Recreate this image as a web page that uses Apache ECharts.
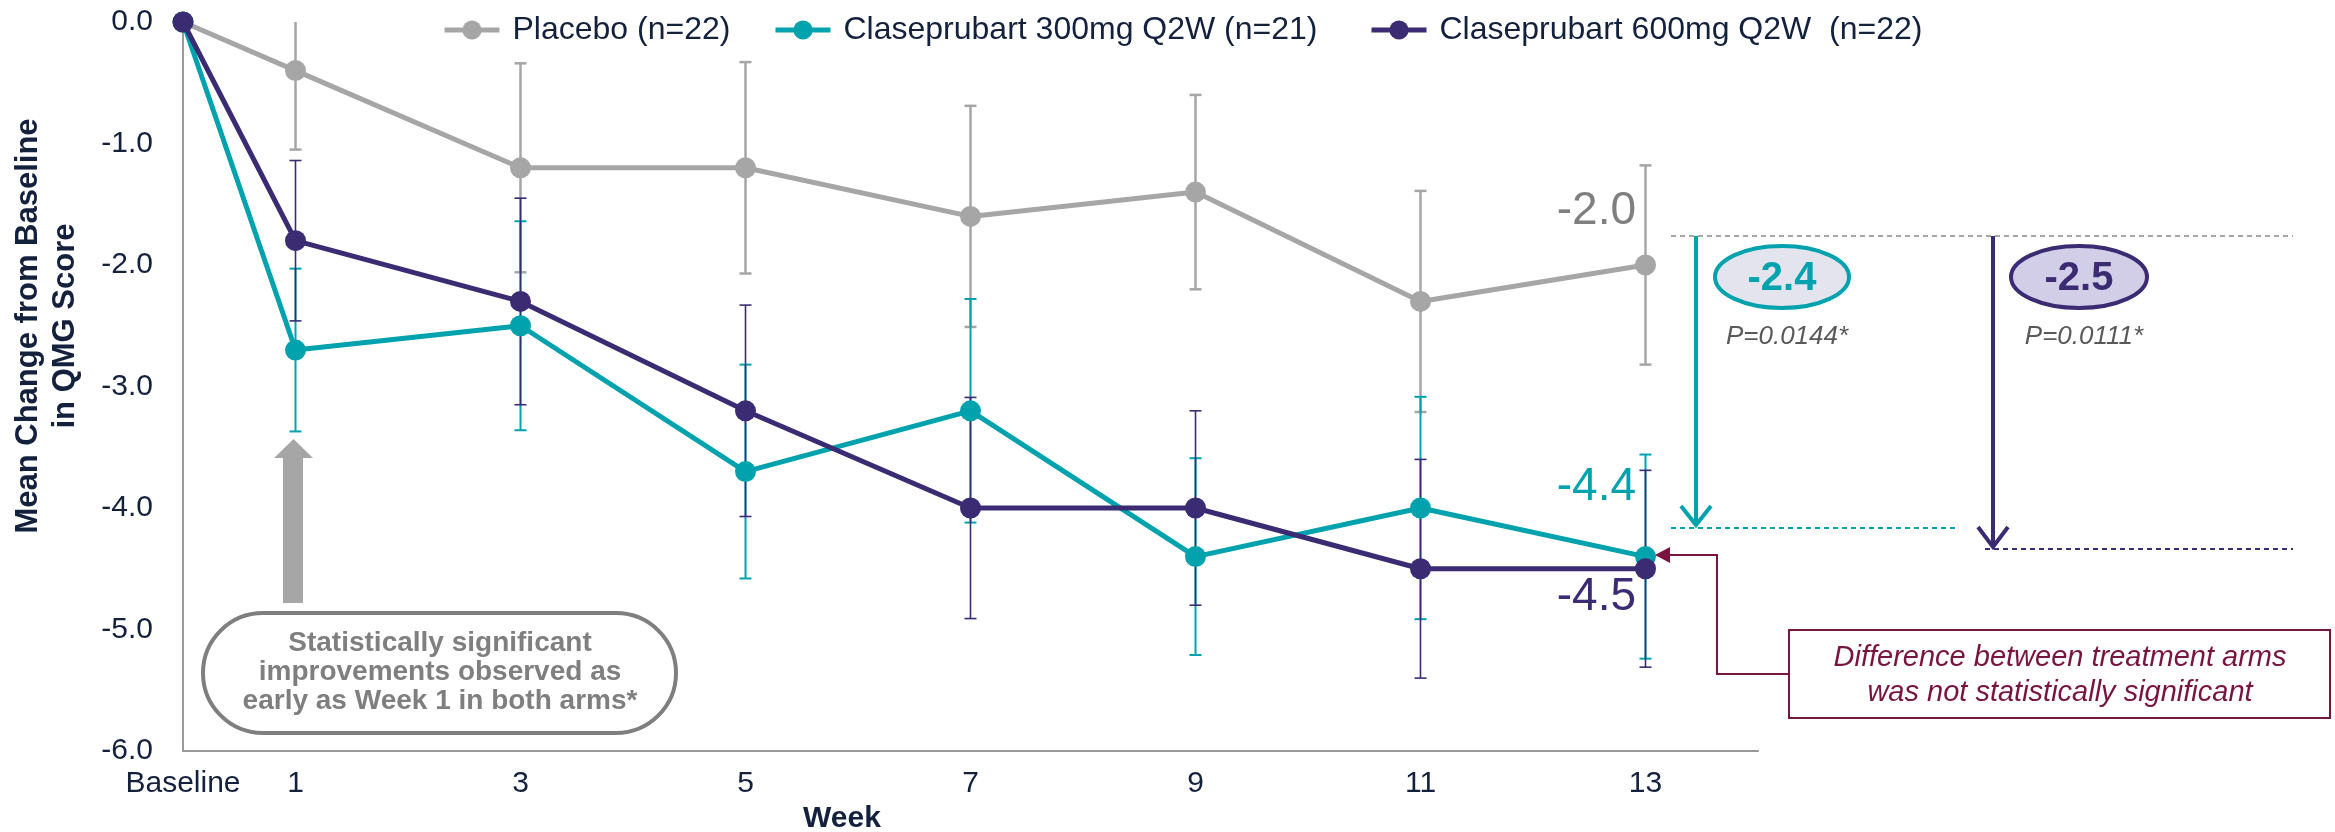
<!DOCTYPE html>
<html>
<head>
<meta charset="utf-8">
<script src="https://cdn.jsdelivr.net/npm/echarts@6/dist/echarts.min.js"></script>
<style>
  html, body { margin: 0; padding: 0; background: #ffffff; }
  #chart { width: 2335px; height: 832px; }
</style>
</head>
<body>
<div id="chart"></div>
<script>
// ---------------- data ----------------
const weeks = [0, 1, 3, 5, 7, 9, 11, 13];
const xTickLabels = { 0: 'Baseline', 1: '1', 3: '3', 5: '5', 7: '7', 9: '9', 11: '11', 13: '13' };
const seriesNames = ['Placebo (n=22)', 'Claseprubart 300mg Q2W (n=21)', 'Claseprubart 600mg Q2W  (n=22)'];
const placeboMean = [0, -0.4, -1.2, -1.2, -1.6, -1.4, -2.3, -2.0];
const placeboSE   = [0, 0.65, 0.86, 0.87, 0.91, 0.80, 0.91, 0.82];
const c300Mean    = [0, -2.7, -2.5, -3.7, -3.2, -4.4, -4.0, -4.4];
const c300SE      = [0, 0.67, 0.86, 0.88, 0.92, 0.81, 0.915, 0.84];
const c600Mean    = [0, -1.8, -2.3, -3.2, -4.0, -4.0, -4.5, -4.5];
const c600SE      = [0, 0.66, 0.85, 0.87, 0.91, 0.80, 0.90, 0.81];

// ---------------- styles ----------------
const GRAY = '#A6A6A6', TEAL = '#00A2AE', PURPLE = '#3A2B73', MAROON = '#781440';
const TXT = '#13213C', DGRAY = '#7F7F7F';
const FONT = '"Liberation Sans", Arial, sans-serif';

function pts(mean) { return weeks.map((w, i) => [w, mean[i]]); }
function errData(mean, se) { return weeks.map((w, i) => [w, mean[i] - se[i], mean[i] + se[i]]).filter((d, i) => se[i] > 0); }

function errSeries(mean, se, color, lw) {
  return {
    type: 'custom', silent: true, z: 1, data: errData(mean, se),
    renderItem: function (params, api) {
      const cs = params.coordSys;
      const x = api.coord([api.value(0), 0])[0];
      let yLo = api.coord([0, api.value(1)])[1];
      let yHi = api.coord([0, api.value(2)])[1];
      const top = cs.y, bot = cs.y + cs.height;
      const children = [];
      const hiClipped = yHi < top, loClipped = yLo > bot;
      yHi = Math.max(yHi, top); yLo = Math.min(yLo, bot);
      const st = { stroke: color, lineWidth: lw };
      children.push({ type: 'line', shape: { x1: x, y1: yHi, x2: x, y2: yLo }, style: st });
      const hw = 6;
      if (!hiClipped) children.push({ type: 'line', shape: { x1: x - hw, y1: yHi, x2: x + hw, y2: yHi }, style: st });
      if (!loClipped) children.push({ type: 'line', shape: { x1: x - hw, y1: yLo, x2: x + hw, y2: yLo }, style: st });
      return { type: 'group', children: children };
    }
  };
}

function lineSeries(name, mean, color, z) {
  return {
    name: name, type: 'line', data: pts(mean), z: z,
    symbol: 'circle', symbolSize: 21,
    lineStyle: { color: color, width: 5 },
    itemStyle: { color: color },
    emphasis: { disabled: true }
  };
}

function legendAt(name, left) {
  return {
    data: [name], left: left, top: 14, padding: 0,
    itemWidth: 55, itemHeight: 24,
    lineStyle: { width: 5 },
    textStyle: { fontFamily: FONT, fontSize: 32, color: TXT, padding: [0, 0, 0, 8] },
    selectedMode: false
  };
}

const chart = echarts.init(document.getElementById('chart'), null, { renderer: 'canvas' });

const graphics = [
  // y-axis title
  { type: 'text', x: 47, y: 326, rotation: Math.PI / 2,
    style: { text: 'Mean Change from Baseline\nin QMG Score', font: 'bold 31px ' + FONT, fill: TXT,
             align: 'center', verticalAlign: 'middle', lineHeight: 37 } },
  // x-axis title
  { type: 'text', x: 842, y: 819,
    style: { text: 'Week', font: 'bold 30px ' + FONT, fill: TXT, align: 'center', verticalAlign: 'middle' } },
  // gray block arrow
  { type: 'polygon', shape: { points: [[283, 603], [283, 458], [274, 458], [293.5, 439], [313, 458], [303, 458], [303, 603]] },
    style: { fill: GRAY } },
  // rounded callout
  { type: 'rect', shape: { x: 203, y: 613, width: 473, height: 120, r: 60 },
    style: { fill: '#ffffff', stroke: DGRAY, lineWidth: 4 } },
  { type: 'text', x: 440, y: 672,
    style: { text: 'Statistically significant\nimprovements observed as\nearly as Week 1 in both arms*',
             font: 'bold 28px ' + FONT, fill: DGRAY, align: 'center', verticalAlign: 'middle', lineHeight: 29 } },
  // end-value labels
  { type: 'text', x: 1636, y: 211, style: { text: '-2.0', font: '46px ' + FONT, fill: DGRAY, align: 'right', verticalAlign: 'middle' } },
  { type: 'text', x: 1636, y: 487, style: { text: '-4.4', font: '46px ' + FONT, fill: TEAL, align: 'right', verticalAlign: 'middle' } },
  { type: 'text', x: 1636, y: 597, style: { text: '-4.5', font: '46px ' + FONT, fill: PURPLE, align: 'right', verticalAlign: 'middle' } },
  // dashed reference lines
  { type: 'line', shape: { x1: 1671, y1: 236, x2: 2293, y2: 236 }, style: { stroke: GRAY, lineWidth: 2, lineDash: [5, 4] } },
  { type: 'line', shape: { x1: 1671, y1: 528, x2: 1958, y2: 528 }, style: { stroke: TEAL, lineWidth: 2, lineDash: [5, 4] } },
  { type: 'line', shape: { x1: 1985, y1: 549, x2: 2293, y2: 549 }, style: { stroke: PURPLE, lineWidth: 2, lineDash: [5, 4] } },
  // teal arrow
  { type: 'line', shape: { x1: 1696, y1: 236, x2: 1696, y2: 524 }, style: { stroke: TEAL, lineWidth: 4 } },
  { type: 'polyline', shape: { points: [[1681, 506], [1696, 525], [1711, 506]] }, style: { stroke: TEAL, lineWidth: 4, fill: null } },
  // purple arrow
  { type: 'line', shape: { x1: 1993, y1: 236, x2: 1993, y2: 545 }, style: { stroke: PURPLE, lineWidth: 4 } },
  { type: 'polyline', shape: { points: [[1978, 527], [1993, 547], [2008, 527]] }, style: { stroke: PURPLE, lineWidth: 4, fill: null } },
  // ellipses
  { type: 'ellipse', shape: { cx: 1782, cy: 277, rx: 67, ry: 31 }, style: { fill: '#E4E4EE', stroke: TEAL, lineWidth: 4 } },
  { type: 'text', x: 1782, y: 279, style: { text: '-2.4', font: 'bold 40px ' + FONT, fill: TEAL, align: 'center', verticalAlign: 'middle' } },
  { type: 'ellipse', shape: { cx: 2079, cy: 277, rx: 68, ry: 31 }, style: { fill: '#D2CEE8', stroke: PURPLE, lineWidth: 4 } },
  { type: 'text', x: 2079, y: 279, style: { text: '-2.5', font: 'bold 40px ' + FONT, fill: PURPLE, align: 'center', verticalAlign: 'middle' } },
  { type: 'text', x: 1787, y: 337, style: { text: 'P=0.0144*', font: 'italic 26px ' + FONT, fill: '#595959', align: 'center', verticalAlign: 'middle' } },
  { type: 'text', x: 2084, y: 337, style: { text: 'P=0.0111*', font: 'italic 26px ' + FONT, fill: '#595959', align: 'center', verticalAlign: 'middle' } },
  // maroon callout
  { type: 'polyline', shape: { points: [[1668, 555], [1717, 555], [1717, 674], [1789, 674]] }, style: { stroke: MAROON, lineWidth: 2, fill: null } },
  { type: 'polygon', shape: { points: [[1655, 555], [1670, 547], [1670, 563]] }, style: { fill: MAROON } },
  { type: 'rect', shape: { x: 1789, y: 630, width: 541, height: 88 }, style: { fill: '#ffffff', stroke: MAROON, lineWidth: 2 } },
  { type: 'text', x: 2060, y: 675,
    style: { text: 'Difference between treatment arms\nwas not statistically significant', font: 'italic 29px ' + FONT,
             fill: MAROON, align: 'center', verticalAlign: 'middle', lineHeight: 35 } }
];

chart.setOption({
  animation: false,
  backgroundColor: '#ffffff',
  textStyle: { fontFamily: FONT },
  legend: [legendAt(seriesNames[0], 442), legendAt(seriesNames[1], 773), legendAt(seriesNames[2], 1369)],
  grid: { left: 183, right: 577, top: 22, bottom: 81, containLabel: false },
  xAxis: {
    type: 'value', min: 0, max: 14, interval: 1,
    axisLine: { show: true, onZero: false, lineStyle: { color: '#999999', width: 2 } },
    axisTick: { show: false },
    splitLine: { show: false },
    axisLabel: {
      margin: 18, fontSize: 30, color: TXT, fontFamily: FONT,
      formatter: function (v) { return xTickLabels[v] !== undefined ? xTickLabels[v] : ''; }
    }
  },
  yAxis: {
    type: 'value', min: -6, max: 0, interval: 1,
    axisLine: { show: true, onZero: false, lineStyle: { color: '#999999', width: 2 } },
    axisTick: { show: false },
    splitLine: { show: false },
    axisLabel: { margin: 30, fontSize: 30, color: TXT, fontFamily: FONT, formatter: function (v) { return v.toFixed(1); } }
  },
  series: [
    errSeries(placeboMean, placeboSE, GRAY, 2.5),
    errSeries(c300Mean, c300SE, TEAL, 2),
    errSeries(c600Mean, c600SE, PURPLE, 1.6),
    lineSeries(seriesNames[0], placeboMean, GRAY, 3),
    lineSeries(seriesNames[1], c300Mean, TEAL, 4),
    lineSeries(seriesNames[2], c600Mean, PURPLE, 5)
  ],
  graphic: graphics
});
</script>
</body>
</html>
